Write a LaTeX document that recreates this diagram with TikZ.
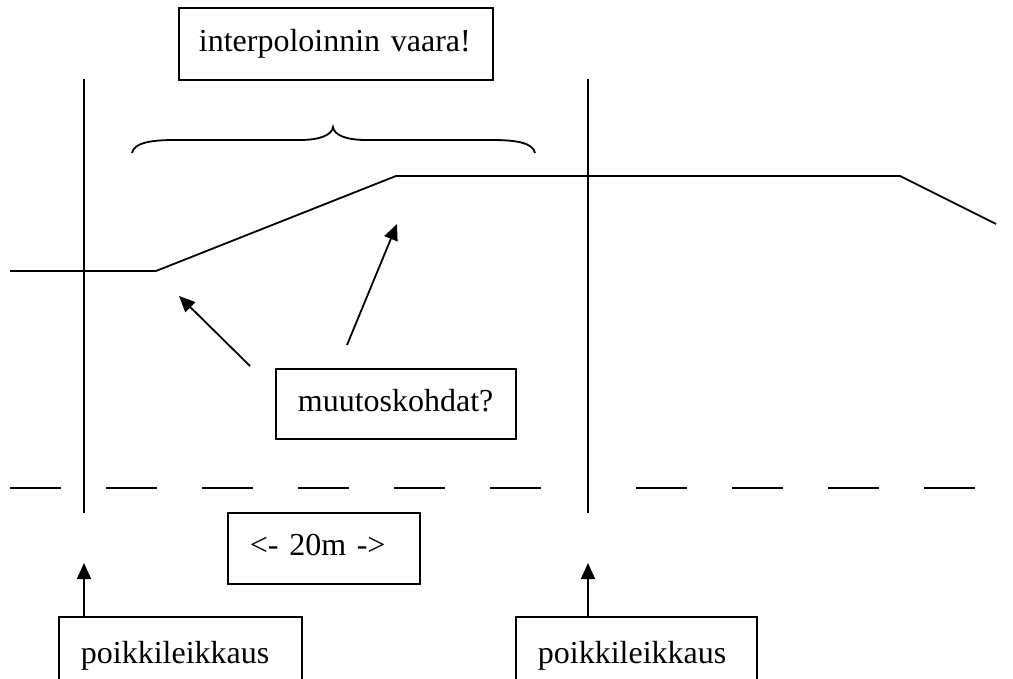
\documentclass[tikz,border=0pt]{standalone}
\usepackage{fontspec}
\setmainfont{Liberation Serif}
\usetikzlibrary{arrows.meta}

\begin{document}
\begin{tikzpicture}[x=0.5pt,y=-0.5pt,line width=0.9pt,>={Triangle[length=8pt,width=7pt]},
  label box/.style={draw,rectangle,anchor=north west,align=left,inner xsep=11pt,inner ysep=0pt,text height=11pt,text depth=3.5pt,font=\fontsize{16}{19}\selectfont},
  gap line/.style={dash pattern=on 25.5pt off 22.5pt}]
    \useasboundingbox (0,0) rectangle (1013,679);
    \clip (0,0) rectangle (1013,679);

    % cross sections and road edge
    \draw (84,79) -- (84,513);
    \draw (588,79) -- (588,513);
    \draw[gap line] (10,488) -- (542,488);
    \draw[gap line] (636,488) -- (976,488);
    \draw (10,271) -- (156,271) -- (396,176) -- (900,176) -- (996,224);

    % brace
    \draw (132,153) .. controls (134,143) and (150,140) .. (175,140) -- (300,140)
        .. controls (320,140) and (332,135) .. (333,127)
        .. controls (334,135) and (346,140) .. (366,140) -- (492,140)
        .. controls (517,140) and (533,143) .. (535,153);

    \node[label box, inner xsep=10pt, text width=137pt, minimum height=36pt] (warn) at (178,7) {interpoloinnin vaara!};
    \node[label box, text width=98pt, minimum height=35pt] (change) at (275,368) {muutoskohdat?};
    \node[label box, text width=74pt, minimum height=35.5pt] (span) at (227,512) {<- 20m ->};
    \node[label box, text width=99.5pt, minimum height=39pt] (secL) at (58,616) {poikkileikkaus};
    \node[label box, text width=98.5pt, minimum height=39pt] (secR) at (515,616) {poikkileikkaus};

    \coordinate (kinkA) at (179,296);
    \coordinate (kinkB) at (397,224);
    \coordinate (tailA) at (250,366);
    \coordinate (tailB) at (347,345);
    \coordinate (cutL) at (84,563);
    \coordinate (cutR) at (588,563);

    \path[->]
        (tailA) edge (kinkA)
        (tailB) edge (kinkB)
        (secL.north -| cutL) edge (cutL)
        (secR.north -| cutR) edge (cutR)
        ;
\end{tikzpicture}
\end{document}
